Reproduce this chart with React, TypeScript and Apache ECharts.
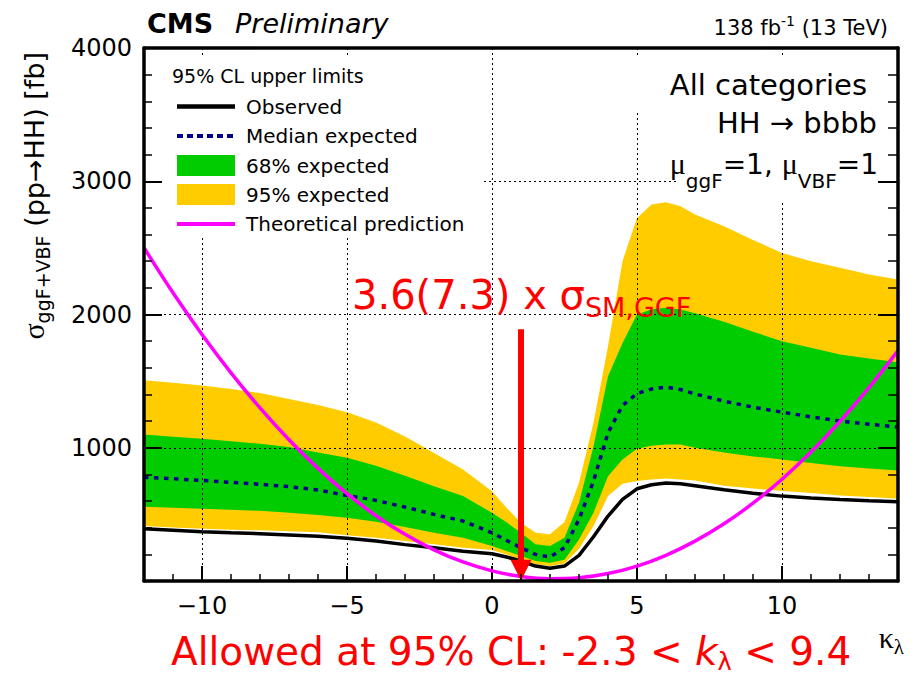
import React, { useEffect, useRef } from 'react';
import * as echarts from 'echarts';

// kappa_lambda scan points of the limit curves
const KAPPA = [-12, -11, -10, -9, -8, -7, -6, -5, -4, -3, -2, -1, 0, 0.5, 1, 1.5, 2, 2.5, 3, 3.5, 4, 4.5, 5, 5.5, 6, 6.5, 7, 8, 9, 10, 11, 12, 13, 14];

// 95% CL upper limits on sigma(ggF+VBF -> HH) [fb]
const OBSERVED = [392, 381, 370, 362, 355, 345, 335, 320, 300, 273, 250, 224, 205, 180, 150, 112, 95, 112, 192, 332, 487, 612, 692, 722, 735, 730, 715, 685, 658, 637, 622, 612, 603, 595];
const EXPECTED_MEDIAN = [779, 767, 755, 740, 726, 708, 683, 642, 605, 555, 500, 450, 362, 305, 250, 200, 180, 250, 462, 750, 1112, 1317, 1407, 1441, 1455, 1437, 1404, 1350, 1305, 1267, 1232, 1200, 1177, 1155];
const EXPECTED_68_UP = [1100, 1083, 1067, 1048, 1030, 1005, 965, 925, 865, 790, 712, 637, 512, 440, 362, 275, 262, 325, 587, 1012, 1537, 1787, 2000, 2040, 2050, 2037, 2010, 1945, 1870, 1800, 1750, 1700, 1670, 1642];
const EXPECTED_68_DOWN = [557, 550, 542, 535, 527, 512, 495, 475, 445, 405, 362, 325, 262, 225, 187, 150, 137, 160, 312, 512, 787, 912, 992, 1015, 1025, 1025, 1000, 965, 935, 912, 885, 862, 845, 830];
const EXPECTED_95_UP = [1507, 1487, 1467, 1440, 1410, 1365, 1320, 1267, 1190, 1085, 960, 837, 674, 550, 437, 362, 350, 442, 737, 1187, 1762, 2400, 2725, 2825, 2842, 2812, 2750, 2662, 2560, 2462, 2400, 2350, 2300, 2262];
const EXPECTED_95_DOWN = [412, 402, 392, 385, 380, 373, 365, 344, 325, 300, 275, 250, 232, 198, 162, 125, 112, 132, 242, 412, 637, 730, 750, 762, 770, 762, 755, 715, 695, 675, 660, 642, 630, 617];

// theoretical cross section vs kappa_lambda
const THEORY_KAPPA = [-12, -11, -10, -9, -8, -7, -6, -5, -4, -3, -2, -1, 0, 1, 2, 3, 4, 5, 6, 7, 8, 9, 10, 11, 12, 13, 14];
const THEORY_XS = [2501, 2163, 1850, 1562, 1299, 1060, 845, 655, 490, 350, 234, 143, 76, 34, 17, 24, 56, 112, 193, 299, 429, 584, 764, 968, 1197, 1451, 1729];

// arrow marking the SM point kappa_lambda = 1
const ARROW = { kappa: 1, from: 1890, to: 80 };

const LEGEND_TITLE = '95% CL upper limits';
const LEGEND_LABELS = ['Observed', 'Median expected', '68% expected', '95% expected', 'Theoretical prediction'];

const COLORS = {
  yellow: '#ffcc00',
  green: '#00cc00',
  median: '#00008b',
  theory: '#ff00ff',
  red: '#ff0000',
};

const SANS = '"DejaVu Sans", sans-serif';
const SERIF = '"Liberation Serif", serif';
const MID = 0.345; // distance from alphabetic baseline to the central baseline, in em

type Seg = {
  t: string;
  size: number;
  family?: string;
  weight?: string;
  italic?: boolean;
  dy?: number;
  color?: string;
};

let measureCtx: CanvasRenderingContext2D | null = null;
function segWidth(s: Seg): number {
  if (!measureCtx) {
    const c = document.createElement('canvas');
    measureCtx = c.getContext('2d');
  }
  const fam = s.family || SANS;
  if (!measureCtx) return s.t.length * s.size * 0.6;
  measureCtx.font = `${s.italic ? 'italic' : 'normal'} ${s.weight || 'normal'} ${s.size}px ${fam}`;
  return measureCtx.measureText(s.t).width;
}

// lays out a run of text pieces along one baseline
function run(segs: Seg[], x: number, baseline: number, align: 'left' | 'right', z = 11, color = '#000') {
  const widths = segs.map(segWidth);
  const total = widths.reduce((a, b) => a + b, 0);
  let cx = align === 'right' ? x - total : x;
  const els: any[] = [];
  segs.forEach((s, i) => {
    els.push({
      type: 'text',
      x: cx,
      y: baseline + (s.dy || 0) - MID * s.size,
      z,
      silent: true,
      style: {
        text: s.t,
        fontSize: s.size,
        fontFamily: s.family || SANS,
        fontWeight: s.weight || 'normal',
        fontStyle: s.italic ? 'italic' : 'normal',
        fill: s.color || color,
        textAlign: 'left',
        verticalAlign: 'middle',
      },
    });
    cx += widths[i];
  });
  return { els, total };
}

function bandSeries(upper: number[], lower: number[], color: string, z: number) {
  return {
    type: 'custom',
    xAxisIndex: 0,
    yAxisIndex: 0,
    z,
    silent: true,
    clip: true,
    data: [[KAPPA[0], upper[0]]],
    renderItem: (_params: any, api: any) => {
      const pts: number[][] = [];
      KAPPA.forEach((k, i) => pts.push(api.coord([k, upper[i]])));
      for (let i = KAPPA.length - 1; i >= 0; i--) pts.push(api.coord([KAPPA[i], lower[i]]));
      return { type: 'polygon', shape: { points: pts }, style: { fill: color } };
    },
  };
}

function buildGraphics() {
  const g: any[] = [];

  // white boxes behind the legend and the text blocks
  const box = (x: number, y: number, w: number, h: number) => ({
    type: 'rect',
    z: 5,
    silent: true,
    shape: { x, y, width: w, height: h },
    style: { fill: '#fff' },
  });
  g.push(box(147, 58, 336, 180));
  g.push(box(612, 58, 284, 54));
  g.push(box(677, 112, 219, 91));

  // header
  g.push(...run([{ t: 'CMS', size: 27, weight: 'bold' }], 147, 33, 'left').els);
  g.push(...run([{ t: 'Preliminary', size: 27, italic: true }], 235, 33, 'left').els);
  g.push(
    ...run(
      [
        { t: '138 fb', size: 21 },
        { t: '-1', size: 14, dy: -9 },
        { t: ' (13 TeV)', size: 21 },
      ],
      888,
      35,
      'right'
    ).els
  );

  // y-axis title, rotated
  const title = run(
    [
      { t: 'σ', size: 30, family: SERIF },
      { t: 'ggF+VBF', size: 19, dy: 6 },
      { t: ' (pp→HH) [fb]', size: 27 },
    ],
    0,
    0,
    'left'
  );
  g.push({
    type: 'group',
    x: 44,
    y: 52 + title.total,
    rotation: Math.PI / 2,
    z: 11,
    children: title.els,
  });

  // x-axis title
  g.push(
    ...run(
      [
        { t: 'κ', size: 30, family: SERIF },
        { t: 'λ', size: 21, family: SERIF, dy: 6 },
      ],
      904,
      648,
      'right'
    ).els
  );

  // legend
  g.push(...run([{ t: LEGEND_TITLE, size: 19 }], 172, 83, 'left').els);
  const rows = [106.5, 136, 165.5, 194.5, 224];
  const sx1 = 177;
  const sx2 = 235;
  g.push({ type: 'line', z: 11, silent: true, shape: { x1: sx1, y1: rows[0], x2: sx2, y2: rows[0] }, style: { stroke: '#000', lineWidth: 4.5 } });
  g.push({ type: 'line', z: 11, silent: true, shape: { x1: sx1, y1: rows[1], x2: sx2, y2: rows[1] }, style: { stroke: COLORS.median, lineWidth: 4, lineDash: [6, 4] } });
  g.push({ type: 'rect', z: 11, silent: true, shape: { x: sx1, y: rows[2] - 10.5, width: sx2 - sx1, height: 21 }, style: { fill: COLORS.green } });
  g.push({ type: 'rect', z: 11, silent: true, shape: { x: sx1, y: rows[3] - 10.5, width: sx2 - sx1, height: 21 }, style: { fill: COLORS.yellow } });
  g.push({ type: 'line', z: 11, silent: true, shape: { x1: sx1, y1: rows[4], x2: sx2, y2: rows[4] }, style: { stroke: COLORS.theory, lineWidth: 4 } });
  LEGEND_LABELS.forEach((lab, i) => {
    g.push(...run([{ t: lab, size: 20 }], 246, rows[i] + 7.2, 'left').els);
  });

  // category / coupling text
  g.push(...run([{ t: 'All categories', size: 29 }], 867, 95, 'right').els);
  g.push(...run([{ t: 'HH → bbbb', size: 29 }], 877, 133, 'right').els);
  g.push(
    ...run(
      [
        { t: 'μ', size: 30, family: SERIF },
        { t: 'ggF', size: 20, dy: 14 },
        { t: '=1, ', size: 28 },
        { t: 'μ', size: 30, family: SERIF },
        { t: 'VBF', size: 20, dy: 14 },
        { t: '=1', size: 28 },
      ],
      878,
      174,
      'right'
    ).els
  );

  // red annotations
  g.push(
    ...run(
      [
        { t: '3.6(7.3) x σ', size: 40 },
        { t: 'SM,GGF', size: 27, dy: 7.5 },
      ],
      352,
      309,
      'left',
      11,
      COLORS.red
    ).els
  );
  g.push(
    ...run(
      [
        { t: 'Allowed at 95% CL: -2.3 < ', size: 39 },
        { t: 'k', size: 39, italic: true },
        { t: 'λ', size: 24, dy: 5 },
        { t: ' < 9.4', size: 39 },
      ],
      171,
      665,
      'left',
      11,
      COLORS.red
    ).els
  );

  return g;
}

function buildOption(): any {
  const frameLine = { color: '#000', width: 3.5 };
  const dotted = { color: '#000', width: 1, type: [2, 3] as number[] };
  const kLabel = (v: number) => (v < 0 ? '\u2212' + Math.abs(v) : String(v));

  return {
    animation: false,
    backgroundColor: '#fff',
    textStyle: { fontFamily: SANS },
    grid: { left: 144, top: 48, width: 754, height: 533, containLabel: false, outerBoundsMode: 'none' },
    xAxis: [
      {
        type: 'value',
        position: 'bottom',
        min: -12,
        max: 14,
        interval: 1,
        z: 10,
        axisLine: { show: true, onZero: false, lineStyle: frameLine },
        axisTick: { show: true, inside: true, length: 7, lineStyle: { color: '#000', width: 1.5 } },
        axisLabel: { show: false },
        splitLine: { show: false },
      },
      {
        type: 'value',
        position: 'bottom',
        min: -12,
        max: 14,
        z: 3,
        axisLine: { show: false, onZero: false },
        axisTick: { show: true, inside: true, length: 15, lineStyle: { color: '#000', width: 2 } },
        axisLabel: {
          show: true,
          margin: 13,
          fontSize: 24,
          color: '#000',
          fontFamily: SANS,
          showMinLabel: false,
          showMaxLabel: false,
          formatter: kLabel,
        },
        splitLine: { show: true, lineStyle: dotted },
      },
      {
        type: 'value',
        position: 'top',
        min: -12,
        max: 14,
        z: 10,
        axisLine: { show: true, onZero: false, lineStyle: frameLine },
        axisTick: { show: false },
        axisLabel: { show: false },
        splitLine: { show: false },
      },
    ],
    yAxis: [
      {
        type: 'value',
        position: 'left',
        min: 0,
        max: 4000,
        interval: 1000,
        z: 10,
        axisLine: { show: true, onZero: false, lineStyle: frameLine },
        axisTick: { show: true, inside: true, length: 18, lineStyle: { color: '#000', width: 2 } },
        minorTick: { show: true, splitNumber: 5, length: 8, lineStyle: { color: '#000', width: 1.5 } },
        axisLabel: {
          show: true,
          margin: 12,
          fontSize: 24,
          color: '#000',
          fontFamily: SANS,
          formatter: (v: number) => (v === 0 ? '' : String(v)),
        },
        splitLine: { show: false },
      },
      {
        type: 'value',
        position: 'right',
        min: 0,
        max: 4000,
        interval: 1000,
        z: 10,
        axisLine: { show: true, onZero: false, lineStyle: frameLine },
        axisTick: { show: true, inside: true, length: 20, lineStyle: { color: '#000', width: 2 } },
        minorTick: { show: true, splitNumber: 5, length: 10, lineStyle: { color: '#000', width: 1.5 } },
        axisLabel: { show: false },
        splitLine: { show: false },
      },
      {
        type: 'value',
        position: 'left',
        min: 0,
        max: 4000,
        interval: 1000,
        z: 3,
        axisLine: { show: false },
        axisTick: { show: false },
        axisLabel: { show: false },
        splitLine: { show: true, lineStyle: dotted },
      },
    ],
    series: [
      bandSeries(EXPECTED_95_UP, EXPECTED_95_DOWN, COLORS.yellow, 1),
      bandSeries(EXPECTED_68_UP, EXPECTED_68_DOWN, COLORS.green, 2),
      {
        name: 'Median expected',
        type: 'line',
        xAxisIndex: 0,
        yAxisIndex: 0,
        z: 4,
        silent: true,
        symbol: 'none',
        data: KAPPA.map((k, i) => [k, EXPECTED_MEDIAN[i]]),
        lineStyle: { color: COLORS.median, width: 3.5, type: [4.5, 5.5], cap: 'butt' },
      },
      {
        name: 'Observed',
        type: 'line',
        xAxisIndex: 0,
        yAxisIndex: 0,
        z: 4,
        silent: true,
        symbol: 'none',
        data: KAPPA.map((k, i) => [k, OBSERVED[i]]),
        lineStyle: { color: '#000', width: 3.5 },
      },
      {
        name: 'Theoretical prediction',
        type: 'line',
        xAxisIndex: 0,
        yAxisIndex: 0,
        z: 4,
        silent: true,
        symbol: 'none',
        smooth: 0.4,
        data: THEORY_KAPPA.map((k, i) => [k, THEORY_XS[i]]),
        lineStyle: { color: COLORS.theory, width: 3.5 },
        markLine: {
          silent: true,
          symbol: ['none', 'triangle'],
          symbolSize: 21,
          label: { show: false },
          lineStyle: { color: COLORS.red, width: 6, type: 'solid' },
          itemStyle: { color: COLORS.red },
          emphasis: { disabled: true },
          data: [[{ coord: [ARROW.kappa, ARROW.from] }, { coord: [ARROW.kappa, ARROW.to] }]],
        },
      },
    ],
    graphic: buildGraphics(),
  };
}

export default function App() {
  const ref = useRef<HTMLDivElement>(null);
  useEffect(() => {
    if (!ref.current) return;
    const chart = echarts.init(ref.current, null, { renderer: 'svg' });
    chart.setOption(buildOption());
    return () => {
      chart.dispose();
    };
  }, []);
  return (
    <div
      ref={ref}
      style={{ position: 'absolute', left: 0, top: 0, width: 917, height: 676, background: '#fff' }}
    />
  );
}
